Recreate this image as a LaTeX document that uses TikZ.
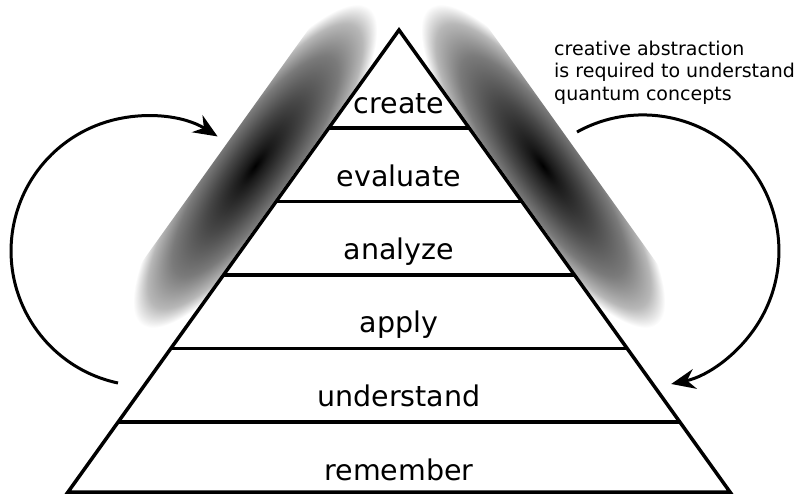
\documentclass[tikz,border=0pt]{standalone}
\usepackage{fontspec}
\setmainfont{DejaVu Sans}
\usetikzlibrary{arrows.meta,calc}

% dark glow along the two sides
\pgfdeclareradialshading{glow}{\pgfpoint{0bp}{0bp}}{%
  color(0bp)=(black); color(3bp)=(black!90); color(10bp)=(black!72);
  color(17bp)=(black!52); color(22bp)=(black!28); color(25bp)=(white);
  color(50bp)=(white)}

\begin{document}
\begin{tikzpicture}[x=1pt,y=-1pt,
  tier/.style={font=\fontsize{28.5}{34}\selectfont, anchor=base, inner sep=0pt},
  note/.style={font=\fontsize{19}{22.5}\selectfont, align=left, anchor=base west, inner sep=0pt},
  pyr/.style={line width=3.5pt},
  cyc/.style={line width=3pt, -{Stealth[length=24pt,width=20pt]}}]
\useasboundingbox (0,0) rectangle (803,496);

% Glow, left side
\begin{scope}[transform canvas={shift={(255,166)},rotate=54.4}]
  \clip[rounded corners=35pt] (-195,-36) rectangle (195,36);
  \shade[shading=glow] (-195,-55) rectangle (195,55);
\end{scope}

% Glow, right side
\begin{scope}[transform canvas={shift={(543,166)},rotate=-54.4}]
  \clip[rounded corners=35pt] (-195,-36) rectangle (195,36);
  \shade[shading=glow] (-195,-55) rectangle (195,55);
\end{scope}

% Pyramid
\coordinate (apex) at (399,30);
\coordinate (bl) at (68,492);
\coordinate (br) at (730,492);
\filldraw[pyr, fill=white] (apex) -- (bl) -- (br) -- cycle;

% Tiers
\foreach \t in {0.212,0.371,0.530,0.689,0.848}
  \draw[pyr] ($(apex)!\t!(bl)$) -- ($(apex)!\t!(br)$);

\node[tier] (create) at (399,113) {create};
\node[tier] (evaluate) at (399,186) {evaluate};
\node[tier] (analyze) at (399,259) {analyze};
\node[tier] (apply) at (399,332) {apply};
\node[tier] (understand) at (399,406) {understand};
\node[tier] (remember) at (399,480) {remember};

% Note
\node[note] (note) at (554,100) {creative abstraction\\is required to understand\\quantum concepts};

% Arrows
\coordinate (lfoot) at (118,383);
\draw[cyc] (lfoot) arc[start angle=102, end angle=302, radius=135];
\coordinate (rtop) at (577,132);
\draw[cyc] (rtop) arc[start angle=241, end angle=438, radius=136];
\end{tikzpicture}
\end{document}
